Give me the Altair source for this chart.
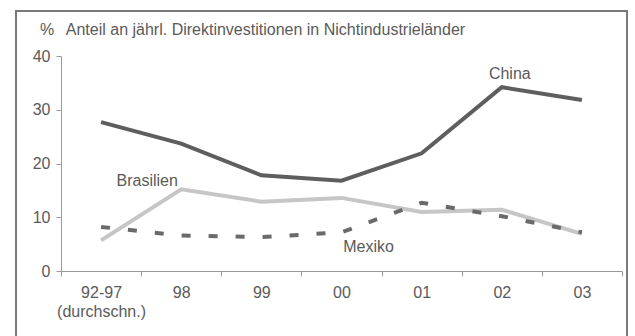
import altair as alt
import pandas as pd

# Share of annual foreign direct investment flowing to non-industrial countries (%)
jahre = ["92-97", "98", "99", "00", "01", "02", "03"]
china = [27.7, 23.7, 17.8, 16.8, 21.9, 34.2, 31.8]
brasilien = [5.7, 15.2, 12.9, 13.6, 11.0, 11.4, 6.9]
mexiko = [8.2, 6.6, 6.3, 7.2, 12.7, 10.2, 7.2]

rows = []
for land, werte in (("China", china), ("Brasilien", brasilien), ("Mexiko", mexiko)):
    for j, w in zip(jahre, werte):
        rows.append({"Jahr": j, "Anteil": w, "Land": land})
df = pd.DataFrame(rows)

FONT = "Liberation Sans"
TEXT = "#5a5a5a"
AXIS = "#9a9a9a"
FS = 16

x_enc = alt.X(
    "Jahr:N",
    sort=jahre,
    bandPosition=0.5,
    scale=alt.Scale(type="band", paddingInner=0, paddingOuter=0),
    axis=alt.Axis(
        title=None,
        labelAngle=0,
        tickBand="extent",
        tickSize=5,
        labelPadding=8,
        labelLineHeight=19,
        labelFont=FONT,
        labelFontSize=FS,
        labelColor=TEXT,
        domainColor=AXIS,
        tickColor=AXIS,
        labelExpr="datum.value == '92-97' ? ['92-97', '(durchschn.)'] : datum.value",
    ),
)
y_enc = alt.Y(
    "Anteil:Q",
    scale=alt.Scale(domain=[0, 40], nice=False),
    axis=alt.Axis(
        title=None,
        values=[0, 10, 20, 30, 40],
        grid=False,
        tickSize=5,
        labelPadding=6,
        labelFont=FONT,
        labelFontSize=FS,
        labelColor=TEXT,
        domainColor=AXIS,
        tickColor=AXIS,
    ),
)

base = alt.Chart(df).encode(x=x_enc, y=y_enc)

# outer frame around the figure
frame = alt.Chart(df).mark_rect(fill=None, stroke="#7a7a7a", strokeWidth=1.4).encode(
    x=alt.value(-45), x2=alt.value(566), y=alt.value(-45), y2=alt.value(320)
)

line_china = base.transform_filter("datum.Land == 'China'").mark_line(
    color="#5e5e5e", strokeWidth=4
)
line_bras = base.transform_filter("datum.Land == 'Brasilien'").mark_line(
    color="#c6c6c6", strokeWidth=4
)
line_mex = base.transform_filter("datum.Land == 'Mexiko'").mark_line(
    color="#6a6a6a", strokeWidth=4, strokeDash=[9, 18]
)

lbl_style = dict(font=FONT, fontSize=FS, color=TEXT, baseline="middle")
lbl_china = base.transform_filter("datum.Land == 'China' && datum.Jahr == '02'").mark_text(
    dx=8, dy=-13, **lbl_style
).encode(text="Land:N")
lbl_bras = base.transform_filter("datum.Land == 'Brasilien' && datum.Jahr == '98'").mark_text(
    dx=-34, dy=-8, **lbl_style
).encode(text="Land:N")
lbl_mex = base.transform_filter("datum.Land == 'Mexiko' && datum.Jahr == '00'").mark_text(
    dx=27, dy=15, **lbl_style
).encode(text="Land:N")

chart = (
    alt.layer(frame, line_china, line_bras, line_mex, lbl_china, lbl_bras, lbl_mex)
    .properties(
        width=561,
        height=215,
        background="white",
        autosize=alt.AutoSizeParams(type="none"),
        padding={"left": 61, "top": 56, "right": 13, "bottom": 65},
        # the title sits inside the frame, so it is pulled down below the frame's top edge
        title=alt.TitleParams(
            "%\u2002 Anteil an jährl. Direktinvestitionen in Nichtindustrieländer",
            anchor="start",
            frame="group",
            baseline="alphabetic",
            dx=-21,
            offset=-41,
            font=FONT,
            fontSize=FS,
            fontWeight="normal",
            color=TEXT,
        ),
    )
    .configure_view(stroke=None)
)

chart.save("out.html", embed_options={"renderer": "svg", "actions": False})
